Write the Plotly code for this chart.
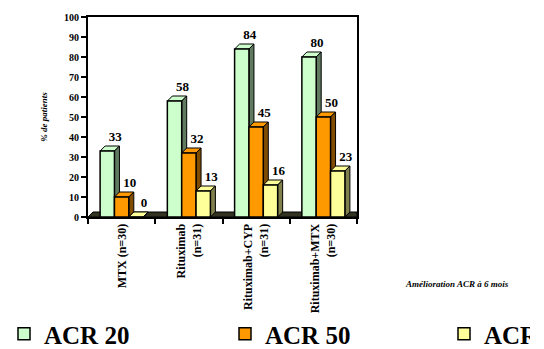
import plotly.graph_objects as go

categories = ["MTX (n=30)", "Rituximab<br>(n=31)", "Rituximab+CYP<br>(n=31)", "Rituximab+MTX<br>(n=30)"]
acr20 = [33, 58, 84, 80]
acr50 = [10, 32, 45, 50]
acr70 = [0, 13, 16, 23]
series_names = ["ACR 20", "ACR 50", "ACR 70"]
colors = ["#CCFFCC", "#FF9900", "#FFFF99"]
side_colors = ["#5F7A5F", "#804C00", "#80804D"]

font_family = "Liberation Serif, Times New Roman, serif"
W, H = 530, 349   # the original slide clips at x=530; page stays 544 wide
ML, MR, MT, MB = 88, W - 357, 17, 132
plot_w = W - ML - MR
plot_h = H - MT - MB

xpos = list(range(len(categories)))
bargap = 0.36
nser = len(series_names)
bw = (1 - bargap) / nser
px_x = plot_w / len(categories)   # pixels per category unit
px_y = plot_h / 100               # pixels per y unit
# depth of the 3-D look (5 px), converted to data units
dx = 5 / px_x
dy = 5 / px_y

fig = go.Figure()
legend_ids = ["legend", "legend2", "legend3"]
legend_left_px = [4, 225, 444]
shapes = []

# floor
shapes.append(dict(
    type="path", xref="x", yref="y", layer="below",
    path=f"M-0.5,0 L{-0.5 + dx},{dy} L{3.5},{dy} L3.5,0 Z",
    fillcolor="#333322", line=dict(color="black", width=1),
))

for j, (name, vals, col, scol, lg) in enumerate(
        zip(series_names, [acr20, acr50, acr70], colors, side_colors, legend_ids)):
    fig.add_trace(go.Bar(
        x=xpos, y=vals, name=name, legend=lg,
        marker=dict(color=col, line=dict(color="black", width=1.5)),
    ))
    off = (j - (nser - 1) / 2) * bw
    tx, ty = [], []
    for i, v in zip(xpos, vals):
        xl = i + off - bw / 2
        xr = i + off + bw / 2
        shapes.append(dict(
            type="path", xref="x", yref="y", layer="below",
            path=f"M{xl},{v} L{xl + dx},{v + dy} L{xr + dx},{v + dy} L{xr},{v} Z",
            fillcolor=col, line=dict(color="black", width=1),
        ))
        shapes.append(dict(
            type="path", xref="x", yref="y", layer="below",
            path=f"M{xr},{v} L{xr + dx},{v + dy} L{xr + dx},{dy} L{xr},0 Z",
            fillcolor=scol, line=dict(color="black", width=1),
        ))
        tx.append(i + off + 8 / px_x)
        ty.append(v + dy + 2 / px_y)
    fig.add_trace(go.Scatter(
        x=tx, y=ty, mode="text", text=[f"<b>{v}</b>" for v in vals],
        textposition="top center", showlegend=False, hoverinfo="skip",
        textfont=dict(family=font_family, size=13, color="black"),
        cliponaxis=False,
    ))

legend_common = dict(
    orientation="h", xref="container", yref="container",
    xanchor="left", yanchor="middle", y=1 - 334 / H,
    font=dict(family=font_family, size=25, color="black", weight="bold"),
    itemwidth=30, bgcolor="rgba(0,0,0,0)",
)

fig.update_layout(
    width=W, height=H,
    margin=dict(l=ML, r=MR, t=MT, b=MB, autoexpand=False),
    paper_bgcolor="white", plot_bgcolor="white",
    barmode="group", bargap=bargap, bargroupgap=0,
    font=dict(family=font_family, color="black"),
    showlegend=True,
    legend=dict(legend_common, x=legend_left_px[0] / W),
    legend2=dict(legend_common, x=legend_left_px[1] / W),
    legend3=dict(legend_common, x=legend_left_px[2] / W),
    shapes=shapes,
    yaxis=dict(
        range=[0, 100], dtick=10, showline=True, linecolor="black", linewidth=2,
        ticks="outside", ticklen=5, tickwidth=2, tickcolor="black",
        tickfont=dict(family=font_family, size=10, color="black", weight="bold"),
        showgrid=False, zeroline=False, mirror=True, automargin=False,
        title=dict(text="<b><i>% de patients</i></b>", font=dict(size=9, family=font_family), standoff=15),
    ),
    xaxis=dict(
        range=[-0.5, len(categories) - 0.5],
        showline=True, linecolor="black", linewidth=2, mirror=True,
        tickmode="array", tickvals=xpos, ticktext=categories, ticks="",
        showgrid=False, zeroline=False, automargin=False,
        tickangle=-90,
        tickfont=dict(family=font_family, size=12, color="black", weight="bold"),
        minor=dict(tickmode="array", tickvals=[i - 0.5 for i in range(len(categories) + 1)],
                   ticks="outside", ticklen=5, tickwidth=2, tickcolor="black", showgrid=False),
    ),
    annotations=[dict(
        text="<b><i>Amélioration ACR à 6 mois</i></b>", xref="paper", yref="paper",
        x=(457 - ML) / plot_w, y=(MT + plot_h - 284) / plot_h, xanchor="center", yanchor="middle",
        showarrow=False, font=dict(family=font_family, size=9, color="black"),
    )],
)

fig.write_html("out.html", config={"displayModeBar": False},
               post_script="document.body.style.margin='0';")
